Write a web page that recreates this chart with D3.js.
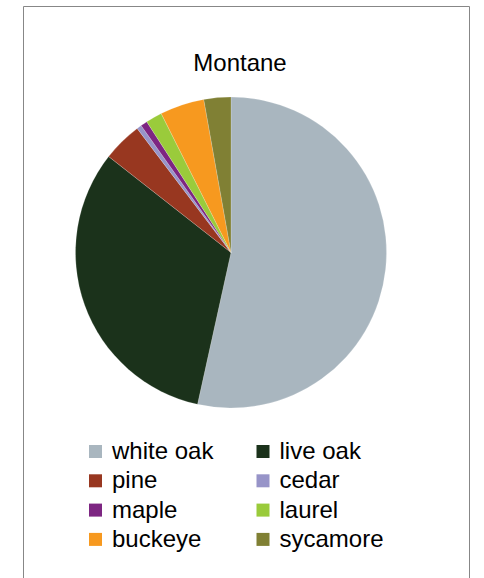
<!DOCTYPE html>
<html>
<head>
<meta charset="utf-8">
<script src="https://cdn.jsdelivr.net/npm/d3@7"></script>
<style>
  html, body { margin: 0; padding: 0; background: #fff; }
  svg { display: block; }
</style>
</head>
<body>
<svg id="chart" width="484" height="578"></svg>
<script>
const title = "Montane";
const categories = ["white oak", "live oak", "pine", "cedar", "maple", "laurel", "buckeye", "sycamore"];
const values = [53.4, 32.1, 4.1, 0.5, 0.7, 1.7, 4.6, 2.8];
const colors = ["#A9B6BF", "#1B321B", "#983720", "#9794C8", "#7D2682", "#9ACB3B", "#F7991F", "#808034"];

const svg = d3.select("#chart");
const font = "'Liberation Sans', Arial, sans-serif";

// chart border (open at the bottom, as in reference)
svg.append("path")
  .attr("d", "M23.5,578 L23.5,6.5 L469.5,6.5 L469.5,578")
  .attr("fill", "none")
  .attr("stroke", "#878787")
  .attr("stroke-width", 1);

svg.append("text")
  .attr("x", 240).attr("y", 71)
  .attr("text-anchor", "middle")
  .attr("font-family", font)
  .attr("font-size", 24)
  .attr("fill", "#000")
  .text(title);

const data = categories.map((c, i) => ({ name: c, value: values[i], color: colors[i] }));
const pie = d3.pie().value(d => d.value).sort(null);
const arc = d3.arc().innerRadius(0).outerRadius(155.5);

const g = svg.append("g").attr("transform", "translate(231,252.5)");
g.selectAll("path")
  .data(pie(data))
  .join("path")
  .attr("d", arc)
  .attr("fill", d => d.data.color)
  .attr("stroke", "rgba(255,255,255,0.35)")
  .attr("stroke-width", 0.5);

// legend
const colX = d3.scaleOrdinal().domain([0, 1]).range([89, 256.5]);
const rowY = d3.scaleLinear().domain([0, 1]).range([445, 474.3]);
const leg = svg.append("g");
const items = leg.selectAll("g")
  .data(data)
  .join("g")
  .attr("transform", (d, i) => `translate(${colX(i % 2)},${rowY(Math.floor(i / 2))})`);
items.append("rect")
  .attr("width", 13).attr("height", 13)
  .attr("fill", d => d.color);
items.append("text")
  .attr("x", 23).attr("y", 14)
  .attr("font-family", font)
  .attr("font-size", 24)
  .attr("fill", "#000")
  .text(d => d.name);
</script>
</body>
</html>
